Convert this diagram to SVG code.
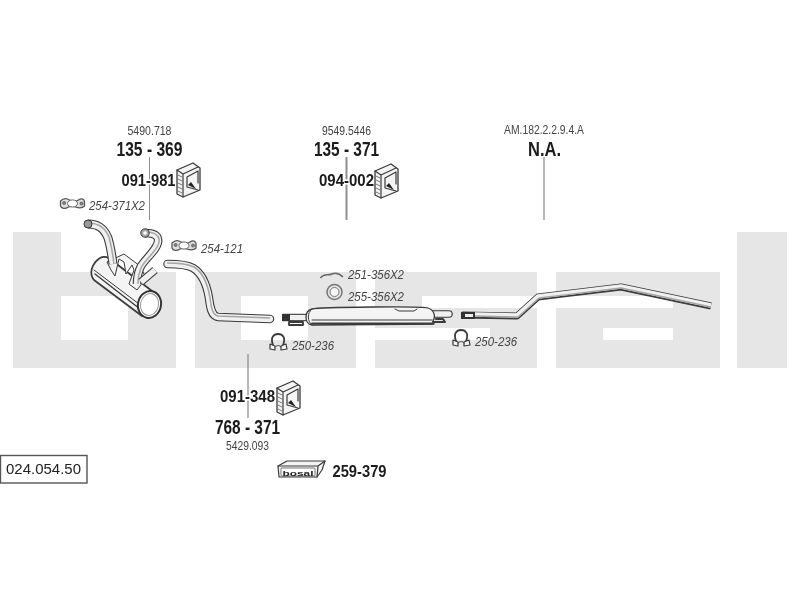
<svg xmlns="http://www.w3.org/2000/svg" width="800" height="600" viewBox="0 0 800 600">
<style>
text{font-family:"Liberation Sans",Arial,sans-serif;fill:#222}
.ref{font-size:12px;fill:#444}
.big{font-size:20px;font-weight:bold;fill:#1a1a1a}
.mid{font-size:17px;font-weight:bold;fill:#1a1a1a}
.it{font-size:13px;font-style:italic;fill:#444}
.lead{stroke:#8f8f8f;fill:none}
.po{fill:none;stroke:#3a3a3a;stroke-linejoin:round}
.pi{fill:none;stroke:#f0f0f0;stroke-linejoin:round}
.ps{fill:none;stroke:#a5a5a5;stroke-linejoin:round}
.ln{fill:none;stroke:#3a3a3a;stroke-linejoin:round;stroke-linecap:round}
.wh{fill:#f4f4f4;stroke:#3a3a3a;stroke-linejoin:round}
</style>
<defs>
<filter id="soft" x="-2%" y="-2%" width="104%" height="104%"><feGaussianBlur stdDeviation="0.4"/></filter>
<g id="mount">
<path class="wh" stroke-width="1.300" d="M0 7 L16 0 L23 5 L23 27 L6 34 L0 31 Z"/>
<path class="ln" stroke-width="1.200" d="M6 11 L6 34 M0 7 L6 11 L21 4 M10 14 L10 24 L21 27 M10 14 L21 8 M21 8 V20"/>
<path d="M1 12 L5 14 M1 16 L5 18 M1 20 L5 22 M1 24 L5 26 M1 28 L5 30" stroke="#777" stroke-width="1"/>
<path d="M11 22 L19 26 L14 19 Z" fill="#222"/>
</g>
<g id="clamp">
<path class="ln" stroke-width="1.800" d="M4 11 C1 3 5 0 9 0 C14 0 17 4 14 11" stroke="#555"/>
<path class="wh" stroke-width="1.200" d="M1 10 L6 12 L6 16 L1 15 Z M12 12 L17 10 L18 15 L12 16 Z"/>
<path class="ln" stroke-width="1" d="M6 13 C8 11 11 11 12 13"/>
</g>
<g id="gasket">
<path fill="#e0e0e0" stroke="#555" stroke-width="1.300" d="M0 2 C3 -1 6 -1 9 1 C12 3 15 3 18 1 C21 -1 24 0 24 3 L24 7 C21 10 18 9 15 8 C12 6 10 7 8 8 C5 10 1 10 0 7 Z"/>
<ellipse cx="12" cy="4.500" rx="5" ry="3.600" fill="#fff" stroke="#666"/>
<circle cx="3.600" cy="4" r="2" fill="#777"/>
<circle cx="21" cy="4.500" r="2" fill="#777"/>
</g>
</defs>
<rect width="800" height="600" fill="#fff"/>
<g id="watermark" fill="#e6e6e6" fill-rule="evenodd">
<path d="M13 232 H61 V272 H176 V368 H13 Z M61 296 V340 H128 V296 Z"/>
<path d="M195 272 H356 V368 H195 Z M241 296 V340 H308 V296 Z"/>
<path d="M375 272 H537 V368 H375 V340 H490 V328 H375 Z M422 296 V308 H537 V296 Z"/>
<path d="M556 272 H720 V368 H556 V308 H673 V296 H556 Z M603 328 V340 H673 V328 Z"/>
<path d="M737 232 H787 V368 H737 Z"/>
</g>
<g filter="url(#soft)">
<g id="connectors">
<path class="lead" stroke-width="1" d="M149.500 157 V220"/>
<path class="lead" stroke-width="2" d="M346.500 157 V220"/>
<path class="lead" stroke-width="1.300" d="M544 157 V220"/>
<path class="lead" stroke-width="1.300" d="M248 354 V418"/>
</g>
<g id="muffler-front">
<path class="wh" stroke-width="1.700" d="M100 258 C105 255 110 258 114 262 L152 291 L142 316 L94 280 C89 274 91 264 100 258 Z"/>
<path class="ln" stroke-width="1" stroke="#888" d="M94 270 L139 304"/>
<path class="ln" stroke-width="1.300" d="M95 274 L140 309"/>
<ellipse cx="149.500" cy="304.500" rx="11.500" ry="13.500" transform="rotate(12 149.500 304.500)" fill="#fff" stroke="#333" stroke-width="2"/>
<ellipse cx="149.500" cy="304.500" rx="9" ry="11" transform="rotate(12 149.500 304.500)" fill="none" stroke="#999" stroke-width="1"/>
<path class="wh" stroke-width="1" d="M107 262 L111 270 L115 276 L119 259 L124 262 L126 274 L132 265 L134 270 L129 284 L137 290 L146 278 L140 266 L124 254 Z"/>
</g>
<g id="pipe-manifold-a">
<path class="po" stroke-width="9" d="M88 224 C98 224 104 228 108 238 C111 248 112 256 113 264"/>
<path class="pi" stroke-width="6.800" d="M88 224 C98 224 104 228 108 238 C111 248 112 256 113 264"/>
<path class="ps" stroke-width="1.500" d="M88 223 C98 223 105 227 109 237 C112 248 113 256 114 264"/>
<circle cx="88" cy="224" r="4" fill="#999" stroke="#333"/>
</g>
<g id="pipe-manifold-b">
<path class="po" stroke-width="8.500" d="M145 233 C152 233 157 234 158 239 C160 247 146 258 141 266 C138 272 137 278 137 284"/>
<path class="pi" stroke-width="6.300" d="M145 233 C152 233 157 234 158 239 C160 247 146 258 141 266 C138 272 137 278 137 284"/>
<path class="ps" stroke-width="1.500" d="M146 232 C153 232 158 234 159 239 C161 247 147 258 142 266 C139 272 138 278 138 284"/>
<circle cx="145" cy="233" r="4.200" fill="#aaa" stroke="#333"/>
<circle cx="145" cy="233" r="1.800" fill="#fff"/>
<path class="po" stroke-width="8" d="M155 270 L141 282"/>
<path class="pi" stroke-width="5.800" d="M155 270 L141 282"/>
</g>
<g id="pipe-front">
<path class="po" stroke-width="8.500" stroke-linecap="round" d="M167.500 264 C176 264 186 264 193 268 C203 274 207 286 209 298 C210 306 211 316 218 317 L270 319"/>
<path class="pi" stroke-width="6.300" stroke-linecap="round" d="M167.500 264 C176 264 186 264 193 268 C203 274 207 286 209 298 C210 306 211 316 218 317 L270 319"/>
<path class="ps" stroke-width="1.500" d="M167 263 C176 263 186 263 194 267 C204 273 208 286 210 298 C211 306 212 315 218 316 L270 318"/>
</g>
<g id="muffler-centre">
<path class="po" stroke-width="7.500" d="M283 317.500 H306"/>
<path class="pi" stroke-width="5.300" d="M290 317.500 H306"/>
<rect x="282" y="314" width="8" height="7" fill="#333"/>
<path class="ln" stroke-width="1.800" d="M289 322 H303 V325 H289 Z"/>
<path class="po" stroke-width="7.500" stroke-linecap="round" d="M432 314 H449"/>
<path class="pi" stroke-width="5.300" stroke-linecap="round" d="M432 314 H449"/>
<path class="wh" stroke-width="1.300" d="M312 309 C320 307 424 306 428 308 C434 310 436 316 433 321 L434 324 L312 325 C304 324 304 311 312 309 Z"/>
<path class="ln" stroke-width="1" stroke="#777" d="M312 309 C307 313 307 321 312 325 M312 320 H432 M395 309 L399 311 H414 L417 309"/>
<path class="ln" stroke-width="2" d="M312 323.500 H432"/>
<path class="ln" stroke-width="2" d="M433 322 H445 M436 319 L443 319 L445 322"/>
</g>
<g id="pipe-rear">
<path class="po" stroke-width="7" stroke="#555" d="M462 315 L517 316 L538 297 L621 287 L711 306"/>
<path class="pi" stroke-width="4.400" d="M474 314.500 L517 315.500 L538 296.500 L621 286.500 L711 305.500"/>
<path class="ps" stroke-width="1.300" d="M474 316 L518 317 L539 298 L621 288 L711 307"/>
<rect x="461" y="312" width="14" height="7" fill="#333"/>
<rect x="465" y="314" width="8" height="3" fill="#eee"/>
</g>
<g id="part-135-369">
<text class="ref" x="149.500" y="135" text-anchor="middle" textLength="44" lengthAdjust="spacingAndGlyphs">5490.718</text>
<text class="big" x="149.500" y="156" text-anchor="middle" textLength="66" lengthAdjust="spacingAndGlyphs">135 - 369</text>
</g>
<g id="part-091-981">
<text class="mid" x="148.500" y="186" text-anchor="middle" textLength="54" lengthAdjust="spacingAndGlyphs" stroke="#fff" stroke-width="3" paint-order="stroke">091-981</text>
<use href="#mount" x="177" y="163"/>
</g>
<g id="part-254-371">
<use href="#gasket" x="60.500" y="199"/>
<text class="it" x="89" y="210" textLength="56" lengthAdjust="spacingAndGlyphs">254-371X2</text>
</g>
<g id="part-254-121">
<use href="#gasket" x="172" y="241"/>
<text class="it" x="201" y="252.500" textLength="42" lengthAdjust="spacingAndGlyphs">254-121</text>
</g>
<g id="part-135-371">
<text class="ref" x="346.500" y="135" text-anchor="middle" textLength="49" lengthAdjust="spacingAndGlyphs">9549.5446</text>
<text class="big" x="346.500" y="156" text-anchor="middle" textLength="65" lengthAdjust="spacingAndGlyphs">135 - 371</text>
</g>
<g id="part-094-002">
<text class="mid" x="346.500" y="185.500" text-anchor="middle" textLength="55" lengthAdjust="spacingAndGlyphs" stroke="#fff" stroke-width="3" paint-order="stroke">094-002</text>
<use href="#mount" x="375" y="164"/>
</g>
<g id="part-na">
<text class="ref" x="544" y="134" text-anchor="middle" textLength="80" lengthAdjust="spacingAndGlyphs">AM.182.2.2.9.4.A</text>
<text class="big" x="544.500" y="156" text-anchor="middle" textLength="33" lengthAdjust="spacingAndGlyphs">N.A.</text>
</g>
<g id="part-251-356">
<path d="M320.500 278 C324 273 328 276 332 274 C336 272 340 274 343 277" fill="none" stroke="#666" stroke-width="1.500"/>
<text class="it" x="348" y="279" textLength="56" lengthAdjust="spacingAndGlyphs">251-356X2</text>
</g>
<g id="part-255-356">
<circle cx="334.500" cy="292" r="7.500" fill="#e4e4e4" stroke="#777" stroke-width="1.500"/>
<circle cx="334.500" cy="292" r="4.500" fill="#f6f6f6" stroke="#777"/>
<text class="it" x="348" y="301" textLength="56" lengthAdjust="spacingAndGlyphs">255-356X2</text>
</g>
<g id="part-250-236-a">
<use href="#clamp" x="269" y="334"/>
<text class="it" x="292" y="349.500" textLength="42" lengthAdjust="spacingAndGlyphs">250-236</text>
</g>
<g id="part-250-236-b">
<use href="#clamp" x="452" y="330"/>
<text class="it" x="475" y="346" textLength="42" lengthAdjust="spacingAndGlyphs">250-236</text>
</g>
<g id="part-091-348">
<text class="mid" x="247.500" y="402" text-anchor="middle" textLength="55" lengthAdjust="spacingAndGlyphs" stroke="#fff" stroke-width="3" paint-order="stroke">091-348</text>
<use href="#mount" x="277" y="381"/>
</g>
<g id="part-768-371">
<text class="big" x="247.500" y="434" text-anchor="middle" textLength="65" lengthAdjust="spacingAndGlyphs">768 - 371</text>
<text class="ref" x="247.500" y="450" text-anchor="middle" textLength="43" lengthAdjust="spacingAndGlyphs">5429.093</text>
</g>
<g id="part-259-379">
<path class="wh" stroke-width="1.200" fill="#fff" d="M278 466 L287 461 H325 L322 470 L317 477 H279 Z"/>
<path class="ln" stroke-width="1.200" d="M278 466 H318 L317 477 M318 466 L325 461"/>
<rect x="281" y="468" width="34" height="8" rx="1" fill="#fff" stroke="#555" stroke-width="0.800"/>
<text x="298" y="475.500" text-anchor="middle" font-size="8" font-weight="bold" textLength="31" lengthAdjust="spacingAndGlyphs">bosal</text>
<text class="mid" x="359.500" y="477" text-anchor="middle" textLength="54" lengthAdjust="spacingAndGlyphs">259-379</text>
</g>
<g id="code-box">
<rect x="0.500" y="455.500" width="86.500" height="27.500" fill="#fff" stroke="#555" stroke-width="1.400"/>
<text x="6" y="474" font-size="14.500" fill="#333" textLength="75" lengthAdjust="spacingAndGlyphs">024.054.50</text>
</g>
</g>
</svg>
